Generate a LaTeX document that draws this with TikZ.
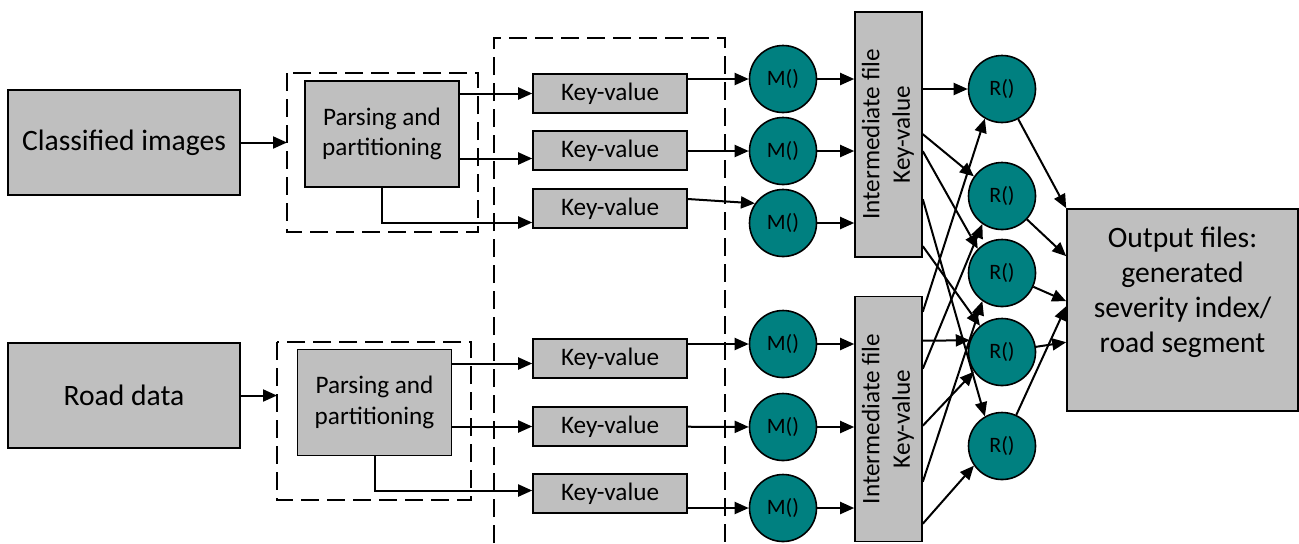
\documentclass[tikz,border=0pt]{standalone}
\usepackage{fontspec}
\setmainfont{Carlito}
\usepackage{tikz}
\usetikzlibrary{arrows.meta,calc}

\definecolor{boxgray}{RGB}{191,191,191}
\definecolor{mapteal}{RGB}{0,128,128}
\newcommand{\srcfont}{\fontsize{14.8pt}{17.5pt}\selectfont}
\newcommand{\boxfont}{\fontsize{12.6pt}{15.2pt}\selectfont}
\newcommand{\taskfont}{\fontsize{11pt}{13pt}\selectfont}

\begin{document}
\begin{tikzpicture}[line width=1pt, x=0.5pt, y=-0.5pt, >={Triangle[length=7pt,width=6pt]}]
    % `source' is used for the two inputs and the output box.
    % `parser' and `kv' are the grey boxes in between.
    % `task' is used for the map and reduce circles.
    \tikzstyle{source} = [draw, thick, fill=boxgray, minimum width=116pt, minimum height=52.5pt, inner sep=0pt, font=\srcfont]
    \tikzstyle{parser} = [draw, thick, fill=boxgray, minimum width=77pt, minimum height=53pt, inner sep=0pt, align=center, font=\boxfont]
    \tikzstyle{kv} = [draw, thick, fill=boxgray, minimum width=77pt, minimum height=19.5pt, inner sep=0pt, font=\boxfont]
    \tikzstyle{ifile} = [draw, thick, fill=boxgray, minimum width=33.5pt, minimum height=122.5pt, inner sep=0pt, font=\boxfont]
    \tikzstyle{task} = [draw, thick, fill=mapteal, circle, minimum size=33.5pt, inner sep=0pt, font=\taskfont]
    \tikzstyle{group} = [semithick, dash pattern=on 9pt off 4pt]
    \useasboundingbox (0,0) rectangle (1299,543);
    %
    % Inputs and parsing.
    \node[source] (cls) at (124,142.5) {Classified images};
    \node[source] (road) at (124,395.5) {Road data};
    \node[parser] (p1) at (382,134) {Parsing and\\partitioning};
    \node[parser] (p2) at (374.5,402.5) {Parsing and\\partitioning};
    \draw[group] (287,73) rectangle (478,232);
    \draw[group] (277,342) rectangle (471,500);
    \draw[group] (494,543) -- (494,38) -- (725,38) -- (725,543);
    \coordinate (g1) at (287,142.5);
    \coordinate (g2) at (277,395.5);
    \draw[->] (cls) -- (g1);
    \draw[->] (road) -- (g2);
    %
    % Key-value pairs.
    \node[kv] (kv1) at (610,93.5) {Key-value};
    \node[kv] (kv2) at (610,150.5) {Key-value};
    \node[kv] (kv3) at (610,208.5) {Key-value};
    \node[kv] (kv4) at (610,358.5) {Key-value};
    \node[kv] (kv5) at (610,426.5) {Key-value};
    \node[kv] (kv6) at (610,493.5) {Key-value};
    \draw[->] (kv1.west -| p1.east) -- (kv1);
    \draw[->] ([yshift=-4pt]kv2.west -| p1.east) -- ([yshift=-4pt]kv2.west);
    \draw[->] (p1.south) |- ([yshift=-7pt]kv3.west);
    \draw[->] ([yshift=-2.5pt]kv4.west -| p2.east) -- ([yshift=-2.5pt]kv4.west);
    \draw[->] (kv5.west -| p2.east) -- (kv5);
    \draw[->] (p2.south) |- ([yshift=1.5pt]kv6.west);
    %
    % Map tasks.
    \node[task] (m1) at (783,79) {M()};
    \node[task] (m2) at (783,151) {M()};
    \node[task] (m3) at (783,223) {M()};
    \node[task] (m4) at (783,344) {M()};
    \node[task] (m5) at (783,427) {M()};
    \node[task] (m6) at (783,508) {M()};
    \draw[->] (kv1.east |- m1) -- (m1);
    \draw[->] (kv2.east |- m2) -- (m2);
    \draw[->] ([yshift=4.75pt]kv3.east) -- (m3.145);
    \draw[->] (kv4.east |- m4) -- (m4);
    \draw[->] (kv5) -- (m5);
    \draw[->] (kv6.east |- m6) -- (m6);
    %
    % Intermediate files.
    \node[ifile] (i1) at (888.5,134.5) {\rotatebox{90}{\begin{tabular}{@{}c@{}}Intermediate file\\Key-value\end{tabular}}};
    \node[ifile] (i2) at (888.5,419) {\rotatebox{90}{\begin{tabular}{@{}c@{}}Intermediate file\\Key-value\end{tabular}}};
    \draw[->] (m1) -- (m1 -| i1.west);
    \draw[->] (m2) -- (m2 -| i1.west);
    \draw[->] (m3) -- (m3 -| i1.west);
    \draw[->] (m4) -- (m4 -| i2.west);
    \draw[->] (m5) -- (m5 -| i2.west);
    \draw[->] (m6) -- (m6 -| i2.west);
    %
    % Reduce tasks and output.
    \node[task] (r1) at (1002,89) {R()};
    \node[task] (r2) at (1002,196) {R()};
    \node[task] (r3) at (1002,273) {R()};
    \node[task] (r4) at (1002,352) {R()};
    \node[task] (r5) at (1002,446) {R()};
    \node[draw, thick, fill=boxgray, minimum width=115.5pt, minimum height=101pt] (out) at (1182.5,310) {};
    \node[font=\srcfont, align=center] (outtext) at ($(out.center)+(0,-18)$) {Output files:\\generated\\severity index/\\road segment};
    %
    % Shuffle from the intermediate files to the reducers.
    \draw[->] (i1.east |- r1) -- (r1);
    \draw[->] ($(i1.north east)+(0,123)$) -- (r2.145);
    \draw[->] ($(i1.north east)+(0,140)$) -- (r3.135);
    \draw[->] ($(i1.north east)+(0,188)$) -- (r5.120);
    \draw[->] ($(i1.north east)+(0,235)$) -- (r4.130);
    \draw[->] ($(i2.north east)+(0,16)$) -- (r1.240);
    \draw[->] ($(i2.north east)+(0,45)$) -- (r4.160);
    \draw[->] ($(i2.north east)+(0,73)$) -- (r2.235);
    \draw[->] ($(i2.north east)+(0,130)$) -- (r4.215);
    \draw[->] ($(i2.north east)+(0,186)$) -- (r3.235);
    \draw[->] ($(i2.north east)+(0,228)$) -- (r5.215);
    %
    \draw[->] (r1) -- (out.north west);
    \draw[->] (r2) -- ($(out.north west)+(0,48)$);
    \draw[->] (r3) -- ($(out.north west)+(0,93)$);
    \draw[->] (r4) -- ($(out.north west)+(0,134)$);
    \draw[->] (r5) -- ($(out.north west)+(0,98)$);
\end{tikzpicture}
\end{document}
